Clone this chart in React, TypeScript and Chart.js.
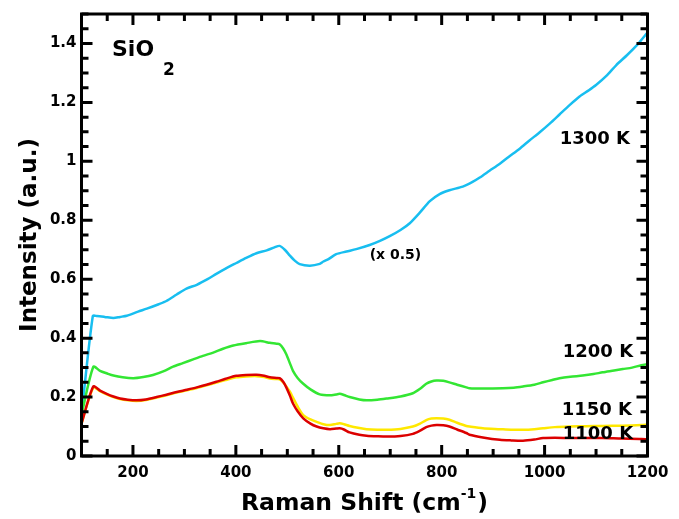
import React, { useEffect, useRef } from "react";
import { Chart, registerables } from "chart.js";

Chart.register(...registerables);

// ---- Data (Raman shift in cm^-1, intensity in a.u.) ----
const shift1300 = [100, 122, 130, 145, 162, 175, 188, 210, 227, 250, 265, 285, 304, 324, 345, 362, 380, 401, 420, 440, 460, 475, 485, 495, 505, 515, 524, 544, 563, 570, 580, 595, 615, 634, 660, 680, 699, 720, 738, 757, 777, 796, 815, 841, 860, 874, 893, 913, 930, 951, 970, 990, 1010, 1029, 1048, 1068, 1085, 1100, 1120, 1139, 1160, 1180, 1200];
const intensity1300 = [0.14, 0.475, 0.475, 0.472, 0.468, 0.472, 0.476, 0.49, 0.5, 0.515, 0.526, 0.548, 0.568, 0.581, 0.6, 0.618, 0.636, 0.655, 0.672, 0.688, 0.698, 0.708, 0.713, 0.7, 0.68, 0.662, 0.651, 0.646, 0.652, 0.66, 0.668, 0.685, 0.694, 0.702, 0.716, 0.73, 0.746, 0.767, 0.79, 0.825, 0.865, 0.889, 0.902, 0.914, 0.93, 0.945, 0.968, 0.992, 1.015, 1.042, 1.07, 1.098, 1.128, 1.159, 1.19, 1.22, 1.24, 1.259, 1.29, 1.326, 1.36, 1.395, 1.437];

const shift1200 = [100, 123, 136, 150, 162, 180, 201, 220, 239, 260, 278, 297, 317, 336, 356, 375, 395, 420, 447, 466, 479, 485, 492, 498, 505, 511, 520, 531, 545, 563, 583, 595, 602, 610, 621, 640, 654, 675, 693, 720, 744, 758, 770, 780, 790, 803, 815, 830, 848, 854, 880, 919, 940, 958, 980, 997, 1015, 1029, 1050, 1074, 1095, 1113, 1135, 1152, 1170, 1188, 1200];
const intensity1200 = [0.14, 0.303, 0.289, 0.28, 0.273, 0.267, 0.264, 0.268, 0.275, 0.288, 0.303, 0.315, 0.328, 0.34, 0.351, 0.364, 0.375, 0.383, 0.39, 0.384, 0.381, 0.379, 0.365, 0.345, 0.315, 0.289, 0.265, 0.245, 0.226, 0.209, 0.206, 0.209, 0.211, 0.207, 0.2, 0.192, 0.189, 0.191, 0.195, 0.202, 0.213, 0.228, 0.245, 0.253, 0.256, 0.255, 0.25, 0.242, 0.233, 0.23, 0.229, 0.23, 0.232, 0.236, 0.242, 0.25, 0.258, 0.264, 0.269, 0.273, 0.278, 0.284, 0.29, 0.295, 0.3, 0.308, 0.311];

const shiftLow = [100, 123, 136, 149, 162, 175, 190, 207, 225, 246, 265, 285, 305, 324, 343, 362, 380, 401, 420, 440, 455, 466, 479, 485, 492, 498, 505, 511, 520, 531, 545, 557, 570, 583, 595, 602, 610, 621, 640, 654, 675, 693, 720, 744, 758, 770, 780, 790, 803, 815, 830, 848, 854, 880, 913, 935, 958, 980, 997, 1020, 1049, 1080, 1113, 1150, 1188, 1200];
const intensity1150 = [0.11, 0.233, 0.22, 0.209, 0.2, 0.193, 0.189, 0.187, 0.19, 0.198, 0.206, 0.215, 0.223, 0.231, 0.24, 0.249, 0.258, 0.267, 0.27, 0.271, 0.268, 0.263, 0.261, 0.26, 0.25, 0.236, 0.218, 0.198, 0.168, 0.139, 0.124, 0.116, 0.108, 0.105, 0.109, 0.111, 0.108, 0.102, 0.095, 0.091, 0.089, 0.089, 0.092, 0.1, 0.11, 0.122, 0.127, 0.128, 0.127, 0.123, 0.113, 0.102, 0.1, 0.094, 0.091, 0.089, 0.089, 0.091, 0.094, 0.098, 0.1, 0.101, 0.102, 0.103, 0.105, 0.106];
const intensity1100 = [0.11, 0.236, 0.222, 0.211, 0.202, 0.195, 0.191, 0.189, 0.192, 0.2, 0.208, 0.217, 0.225, 0.233, 0.242, 0.252, 0.262, 0.272, 0.275, 0.276, 0.272, 0.267, 0.265, 0.264, 0.252, 0.233, 0.205, 0.178, 0.152, 0.128, 0.11, 0.1, 0.094, 0.091, 0.093, 0.094, 0.09, 0.08, 0.072, 0.069, 0.067, 0.066, 0.068, 0.075, 0.086, 0.098, 0.103, 0.105, 0.104, 0.1, 0.09, 0.078, 0.072, 0.063, 0.055, 0.053, 0.052, 0.056, 0.061, 0.062, 0.061, 0.061, 0.061, 0.059, 0.058, 0.056];

const xTickValues = [200, 400, 600, 800, 1000, 1200];
const yTickValues = [0, 0.2, 0.4, 0.6, 0.8, 1.0, 1.2, 1.4];
const xMinorStep = 50;
const yMinorStep = 0.05;

const seriesLabels = ["1100 K", "1150 K", "1200 K", "1300 K"];

const FONT = "'DejaVu Sans', 'Liberation Sans', Arial, sans-serif";

function pts(xs: number[], ys: number[]) {
  return xs.map((x, i) => ({ x, y: ys[i] }));
}

const framePlugin = {
  id: "frame",
  afterDraw(chart: any) {
    const ctx = chart.ctx as CanvasRenderingContext2D;
    const { left, right, top, bottom } = chart.chartArea;
    const xs = chart.scales.x;
    const ys = chart.scales.y;
    ctx.save();
    ctx.strokeStyle = "#000";
    ctx.lineWidth = 3;
    ctx.lineCap = "butt";
    // x ticks (inward, bottom and top)
    for (let v = xs.min; v <= xs.max + 1e-9; v += xMinorStep) {
      const major = Math.abs(v / 200 - Math.round(v / 200)) < 1e-6;
      const len = major ? 11 : 7;
      const px = xs.getPixelForValue(v);
      ctx.beginPath();
      ctx.moveTo(px, bottom);
      ctx.lineTo(px, bottom - len);
      ctx.moveTo(px, top);
      ctx.lineTo(px, top + len);
      ctx.stroke();
    }
    // y ticks (inward, left and right)
    for (let i = 0; ; i++) {
      const v = ys.min + i * yMinorStep;
      if (v > ys.max + 1e-9) break;
      const major = Math.abs(v / 0.2 - Math.round(v / 0.2)) < 1e-6;
      const len = major ? 11 : 7;
      const py = ys.getPixelForValue(v);
      ctx.beginPath();
      ctx.moveTo(left, py);
      ctx.lineTo(left + len, py);
      ctx.moveTo(right, py);
      ctx.lineTo(right - len, py);
      ctx.stroke();
    }
    ctx.strokeRect(left, top, right - left, bottom - top);

    ctx.fillStyle = "#000";
    // Series labels
    ctx.textAlign = "right";
    ctx.textBaseline = "middle";
    ctx.font = `bold 18px ${FONT}`;
    const lab = (t: string, xv: number, yv: number) =>
      ctx.fillText(t, xs.getPixelForValue(xv), ys.getPixelForValue(yv));
    lab(seriesLabels[3], 1166, 1.074);
    lab(seriesLabels[2], 1172, 0.353);
    lab(seriesLabels[1], 1170, 0.155);
    lab(seriesLabels[0], 1172, 0.073);
    ctx.textAlign = "left";
    ctx.font = `bold 14px ${FONT}`;
    ctx.fillText("(x 0.5)", xs.getPixelForValue(660), ys.getPixelForValue(0.681));

    // SiO2
    ctx.textBaseline = "alphabetic";
    ctx.font = `bold 22px ${FONT}`;
    ctx.fillText("SiO", 112, 56);
    const w = ctx.measureText("SiO").width;
    ctx.font = `bold 17px ${FONT}`;
    ctx.fillText("2", 112 + w + 9, 75);

    // X title with superscript
    const big = `bold 23.5px ${FONT}`;
    const small = `bold 14px ${FONT}`;
    ctx.font = big;
    const t1 = "Raman Shift (cm";
    const w1 = ctx.measureText(t1).width;
    const w3 = ctx.measureText(")").width;
    ctx.font = small;
    const t2 = "-1";
    const w2 = ctx.measureText(t2).width;
    const total = w1 + w2 + w3 + 1;
    const x0 = (left + right) / 2 - total / 2;
    const base = 510;
    ctx.font = big;
    ctx.fillText(t1, x0, base);
    ctx.font = small;
    ctx.fillText(t2, x0 + w1, base - 12);
    ctx.font = big;
    ctx.fillText(")", x0 + w1 + w2 + 1, base);

    // Y title
    ctx.save();
    ctx.translate(30, (top + bottom) / 2);
    ctx.rotate(-Math.PI / 2);
    ctx.textAlign = "center";
    ctx.textBaseline = "middle";
    ctx.font = `bold 23px ${FONT}`;
    ctx.fillText("Intensity (a.u.)", 0, 0);
    ctx.restore();

    ctx.restore();
  },
};

export default function App() {
  const ref = useRef<HTMLCanvasElement | null>(null);
  useEffect(() => {
    if (!ref.current) return;
    const lineDs = (label: string, data: any[], color: string) => ({
      label,
      data,
      borderColor: color,
      backgroundColor: color,
      borderWidth: 2.5,
      pointRadius: 0,
      tension: 0.25,
      fill: false,
    });
    const tickFont = { family: FONT, size: 15, weight: "bold" as const };
    const chart = new Chart(ref.current, {
      type: "line",
      data: {
        datasets: [
          lineDs(seriesLabels[0], pts(shiftLow, intensity1100), "#DC0000"),
          lineDs(seriesLabels[1], pts(shiftLow, intensity1150), "#FFE800"),
          lineDs(seriesLabels[2], pts(shift1200, intensity1200), "#33E633"),
          lineDs(seriesLabels[3], pts(shift1300, intensity1300), "#18BEF0"),
        ],
      },
      options: {
        animation: false,
        responsive: false,
        maintainAspectRatio: false,
        devicePixelRatio: 1,
        layout: { padding: { left: 0, top: 7.5, right: 31.5, bottom: 0 } },
        plugins: { legend: { display: false }, tooltip: { enabled: false } },
        scales: {
          x: {
            type: "linear",
            min: 100,
            max: 1200,
            grid: { display: false, drawTicks: false },
            border: { display: false },
            ticks: {
              font: tickFont,
              color: "#000",
              padding: 8,
              maxRotation: 0,
              autoSkip: false,
              callback: (v: any) => String(Math.round(Number(v))),
            },
            afterBuildTicks: (s: any) => {
              s.ticks = xTickValues.map((v) => ({ value: v }));
            },
            afterFit: (s: any) => {
              s.height = 63;
            },
          },
          y: {
            type: "linear",
            min: 0,
            max: 1.5,
            grid: { display: false, drawTicks: false },
            border: { display: false },
            ticks: {
              font: tickFont,
              color: "#000",
              padding: 5,
              autoSkip: false,
              callback: (v: any) => Number(v).toFixed(1).replace(/\.0$/, ""),
            },
            afterBuildTicks: (s: any) => {
              s.ticks = yTickValues.map((v) => ({ value: v }));
            },
            afterFit: (s: any) => {
              s.width = 81.5;
            },
          },
        },
      },
      plugins: [framePlugin],
    });
    return () => chart.destroy();
  }, []);
  return (
    <div style={{ position: "absolute", left: 0, top: 0, width: 679, height: 519, background: "#fff" }}>
      <canvas ref={ref} width={679} height={519} style={{ width: 679, height: 519, display: "block" }} />
    </div>
  );
}
